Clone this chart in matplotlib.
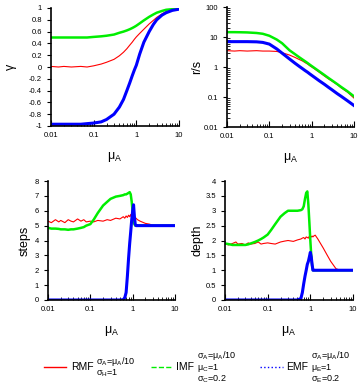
import matplotlib
matplotlib.use("Agg")
import matplotlib.pyplot as plt
from matplotlib.lines import Line2D

plt.rcParams['font.family'] = ['Liberation Sans', 'DejaVu Sans']
plt.rcParams['mathtext.default'] = 'regular'

# x grid for the smooth panels (gamma, r/s)
mu_a = [0.01, 0.015, 0.02, 0.03, 0.05, 0.07, 0.1, 0.15, 0.2, 0.3, 0.4, 0.5, 0.6,
        0.7, 0.8, 0.9, 1.0, 1.2, 1.5, 2, 2.5, 3, 4, 5, 7, 10]

gamma_rmf = [0.01, 0.0, 0.01, 0.0, 0.01, 0.0, 0.02, 0.05, 0.08, 0.13, 0.19, 0.25, 0.31,
             0.37, 0.42, 0.47, 0.51, 0.57, 0.64, 0.73, 0.79, 0.84, 0.9, 0.94, 0.96, 0.98]
gamma_imf = [0.5, 0.5, 0.5, 0.5, 0.5, 0.5, 0.51, 0.52, 0.53, 0.55, 0.58, 0.6, 0.62,
             0.64, 0.66, 0.68, 0.7, 0.74, 0.79, 0.85, 0.89, 0.92, 0.95, 0.97, 0.98, 0.99]
gamma_emf = [-0.97, -0.97, -0.97, -0.97, -0.97, -0.96, -0.95, -0.93, -0.89, -0.8, -0.68, -0.55, -0.4,
             -0.27, -0.15, -0.05, 0.03, 0.22, 0.42, 0.6, 0.72, 0.8, 0.88, 0.92, 0.96, 0.98]

rs_rmf = [3.5, 3.4, 3.5, 3.4, 3.5, 3.4, 3.4, 3.3, 3.0, 2.5, 2.1, 1.8, 1.6,
          1.4, 1.25, 1.1, 1.0, 0.84, 0.67, 0.5, 0.4, 0.34, 0.26, 0.2, 0.145, 0.092]
rs_imf = [14.5, 14.5, 14.4, 14.2, 13.6, 12.8, 11.0, 8.2, 6.2, 3.6, 2.7, 2.15, 1.8,
          1.55, 1.36, 1.2, 1.08, 0.9, 0.72, 0.54, 0.43, 0.36, 0.27, 0.215, 0.155, 0.105]
rs_emf = [7.0, 7.0, 7.0, 7.0, 6.9, 6.6, 5.8, 4.0, 2.9, 1.85, 1.35, 1.07, 0.89,
          0.76, 0.67, 0.59, 0.53, 0.44, 0.35, 0.265, 0.21, 0.175, 0.13, 0.105, 0.075, 0.052]

# denser grid for steps / depth
mu_b = [0.01, 0.012, 0.015, 0.018, 0.02, 0.025, 0.03, 0.035, 0.04, 0.05, 0.06, 0.07, 0.08,
        0.1, 0.12, 0.15, 0.2, 0.25, 0.3, 0.4, 0.5, 0.6, 0.65, 0.7, 0.75, 0.8, 0.85, 0.9,
        0.95, 1.0, 1.05, 1.1, 1.15, 1.2, 1.3, 1.5, 2, 2.5, 3, 4, 5, 7, 10]

steps_rmf = [5.3, 5.2, 5.4, 5.25, 5.35, 5.2, 5.4, 5.3, 5.25, 5.45, 5.3, 5.4, 5.25,
             5.3, 5.25, 5.35, 5.3, 5.4, 5.35, 5.5, 5.45, 5.6, 5.5, 5.65, 5.55, 5.7, 5.6, 5.75,
             5.5, 5.55, 5.7, 5.6, 5.45, 5.5, 5.4, 5.3, 5.15, 5.1, 5.02, 5.0, 5.0, 5.0, 5.0]
steps_imf = [4.85, 4.8, 4.8, 4.78, 4.75, 4.75, 4.72, 4.75, 4.75, 4.8, 4.85, 4.9, 5.0,
             5.1, 5.4, 5.85, 6.35, 6.6, 6.8, 6.95, 7.0, 7.05, 7.1, 7.1, 7.15, 7.2, 7.25, 7.1,
             6.6, 5.9, 5.4, 5.1, 5.0, 5.0, 5.0, 5.0, 5.0, 5.0, 5.0, 5.0, 5.0, 5.0, 5.0]
steps_emf = [0, 0, 0, 0, 0, 0, 0, 0, 0, 0, 0, 0, 0,
             0, 0, 0, 0, 0, 0, 0, 0, 0.02, 0.15, 0.5, 1.6, 2.8, 3.8, 4.6,
             5.4, 6.0, 6.4, 5.6, 5.1, 5.0, 5.0, 5.0, 5.0, 5.0, 5.0, 5.0, 5.0, 5.0, 5.0]

depth_rmf = [1.9, 1.85, 1.9, 1.95, 1.88, 1.9, 1.85, 1.92, 1.88, 1.9, 1.95, 1.88, 1.9,
             1.92, 1.9, 1.88, 1.95, 1.98, 2.0, 1.97, 2.02, 2.05, 2.08, 2.1, 2.05, 2.12, 2.1, 2.08,
             2.15, 2.1, 2.12, 2.15, 2.12, 2.15, 2.18, 2.05, 1.75, 1.5, 1.3, 1.05, 1.0, 1.0, 1.0]
depth_imf = [1.9, 1.88, 1.85, 1.85, 1.85, 1.85, 1.85, 1.87, 1.9, 1.95, 2.0, 2.05, 2.1,
             2.2, 2.35, 2.55, 2.8, 2.92, 3.0, 3.0, 3.0, 3.02, 3.05, 3.15, 3.4, 3.6, 3.65, 3.2,
             2.6, 2.0, 1.5, 1.15, 1.0, 1.0, 1.0, 1.0, 1.0, 1.0, 1.0, 1.0, 1.0, 1.0, 1.0]
depth_emf = [0, 0, 0, 0, 0, 0, 0, 0, 0, 0, 0, 0, 0,
             0, 0, 0, 0, 0, 0, 0, 0, 0.05, 0.25, 0.55, 0.8, 1.0, 1.2, 1.3,
             1.45, 1.6, 1.45, 1.2, 1.0, 1.0, 1.0, 1.0, 1.0, 1.0, 1.0, 1.0, 1.0, 1.0, 1.0]

RED, GREEN, BLUE = '#ff0000', '#00ee00', '#0000ff'
W, H = 362, 388
fig = plt.figure(figsize=(W / 100, H / 100), dpi=100)


def box(l, t, r, b):
    return [l / W, 1 - b / H, (r - l) / W, (b - t) / H]


def style(ax, ylabel, ylabpad):
    ax.set_xscale('log')
    ax.set_xlim(0.01, 10)
    ax.set_xticks([0.01, 0.1, 1, 10])
    ax.set_xticklabels(['0.01', '0.1', '1', '10'])
    for s in ['top', 'right']:
        ax.spines[s].set_visible(False)
    ax.spines['left'].set_linewidth(1.2)
    ax.spines['bottom'].set_linewidth(1.2)
    ax.tick_params(axis='x', which='both', direction='in', labelsize=5.5, pad=4)
    ax.tick_params(axis='x', which='major', length=4)
    ax.tick_params(axis='x', which='minor', length=2)
    ax.tick_params(axis='y', which='major', direction='out', labelsize=5.5, length=3)
    ax.tick_params(axis='y', which='minor', direction='in', length=2)
    ax.set_xlabel(r'$\mu_A$', fontsize=9, labelpad=8)
    ax.set_ylabel(ylabel, fontsize=9, labelpad=ylabpad)


def curves(ax, x, r, g, b):
    ax.plot(x, r, color=RED, lw=0.8)
    ax.plot(x, g, color=GREEN, lw=1.8)
    ax.plot(x, b, color=BLUE, lw=2.2)


ax1 = fig.add_axes(box(51, 8, 179, 126))
curves(ax1, mu_a, gamma_rmf, gamma_imf, gamma_emf)
ax1.set_ylim(-1, 1)
ax1.set_yticks([-1, -0.8, -0.6, -0.4, -0.2, 0, 0.2, 0.4, 0.6, 0.8, 1])
ax1.set_yticklabels(['-1', '-0.8', '-0.6', '-0.4', '-0.2', '0', '0.2', '0.4', '0.6', '0.8', '1'])
style(ax1, r'$\gamma$', 7)

ax2 = fig.add_axes(box(227, 7, 354, 127))
curves(ax2, mu_a, rs_rmf, rs_imf, rs_emf)
ax2.set_yscale('log')
ax2.set_ylim(0.01, 100)
ax2.set_yticks([0.01, 0.1, 1, 10, 100])
ax2.set_yticklabels(['0.01', '0.1', '1', '10', '100'])
style(ax2, 'r/s', 0)

ax3 = fig.add_axes(box(48, 181, 175, 300))
curves(ax3, mu_b, steps_rmf, steps_imf, steps_emf)
ax3.set_ylim(0, 8)
ax3.set_yticks(range(0, 9))
style(ax3, 'steps', 3)

ax4 = fig.add_axes(box(225, 181, 353, 300))
curves(ax4, mu_b, depth_rmf, depth_imf, depth_emf)
ax4.set_ylim(0, 4)
ax4.set_yticks([0, 0.5, 1, 1.5, 2, 2.5, 3, 3.5, 4])
ax4.set_yticklabels(['0', '0.5', '1', '1.5', '2', '2.5', '3', '3.5', '4'])
style(ax4, 'depth', 1)

# legend row along the bottom
legend = [
    (44, 66, RED, '-', 'RMF', 71, 96, [r'$\sigma_A$=$\mu_A$/10', r'$\sigma_H$=1']),
    (151, 173, GREEN, '--', 'IMF', 176, 197,
     [r'$\sigma_A$=$\mu_A$/10', r'$\mu_C$=1', r'$\sigma_C$=0.2']),
    (260, 283, BLUE, ':', 'EMF', 286, 311,
     [r'$\sigma_A$=$\mu_A$/10', r'$\mu_E$=1', r'$\sigma_E$=0.2']),
]
ly = 1 - 367 / H
for x0, x1, col, ls, name, tx, px, params in legend:
    fig.add_artist(Line2D([x0 / W, x1 / W], [ly, ly], color=col, ls=ls, lw=1.0))
    fig.text(tx / W, ly, name, fontsize=7.5, va='center', ha='left')
    fig.text(px / W, ly, '\n'.join(params), fontsize=6.5, va='center', ha='left',
             linespacing=1.0)

fig.savefig('out.png', dpi=100)
